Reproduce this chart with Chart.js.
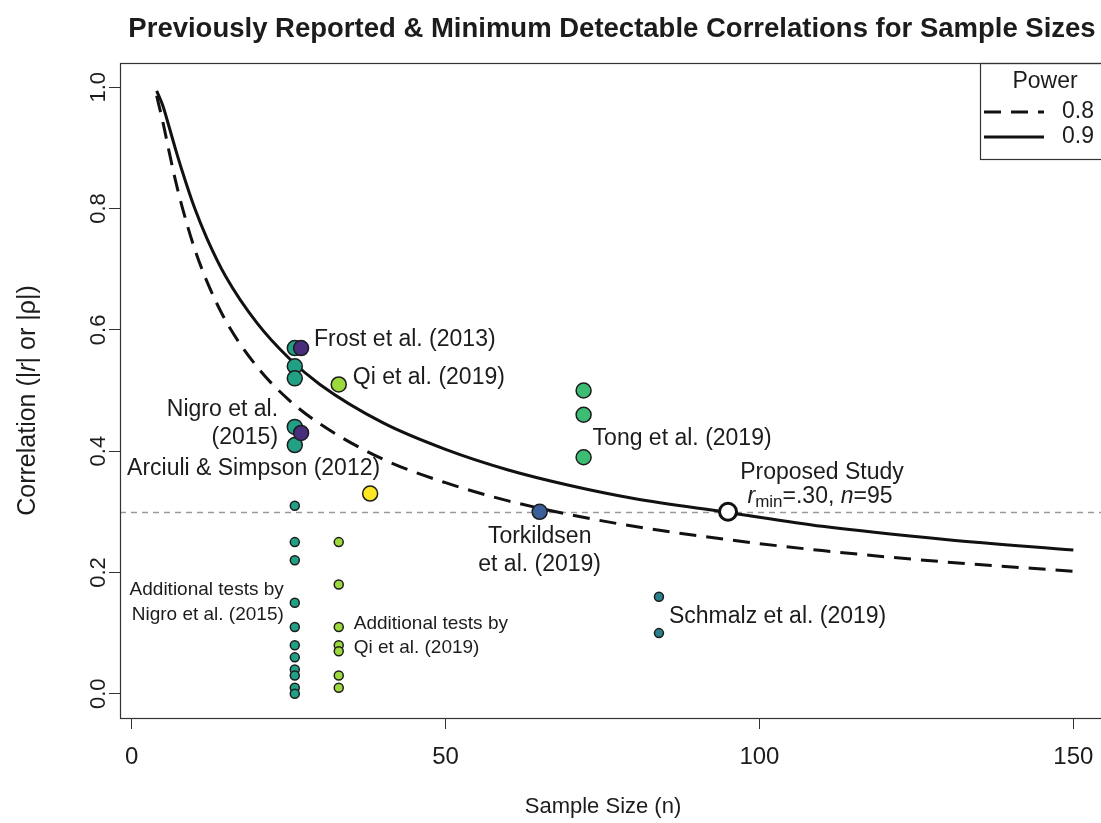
<!DOCTYPE html>
<html>
<head>
<meta charset="utf-8">
<title>Minimum detectable correlations</title>
<script src="https://cdn.jsdelivr.net/npm/chart.js@4.4.1/dist/chart.umd.min.js"></script>
<style>
  html, body { margin: 0; padding: 0; background: #fff; overflow: hidden; }
  #chart { display: block; }
</style>
</head>
<body>
<canvas id="chart" width="1140" height="823"></canvas>
<script>
"use strict";

// --- Data ---------------------------------------------------------------- //
const X_TICKS = [0, 50, 100, 150];
const X_TICK_LABELS = ["0", "50", "100", "150"];
const Y_TICKS = [0, 0.2, 0.4, 0.6, 0.8, 1.0];
const Y_TICK_LABELS = ["0.0", "0.2", "0.4", "0.6", "0.8", "1.0"];

// Minimum detectable |r| by sample size, for the two power levels.
const curveN = [4, 5, 6, 7, 8, 10, 12, 15, 20, 25, 30, 40, 50, 60, 70, 80, 95, 110, 130, 150];
const rPower80 = [0.986, 0.942, 0.893, 0.846, 0.805, 0.735, 0.680, 0.615, 0.539, 0.485,
                  0.445, 0.387, 0.348, 0.318, 0.295, 0.276, 0.254, 0.236, 0.217, 0.202];
const rPower90 = [0.994, 0.969, 0.934, 0.898, 0.864, 0.802, 0.751, 0.688, 0.611, 0.554,
                  0.510, 0.447, 0.403, 0.369, 0.343, 0.322, 0.299, 0.276, 0.254, 0.237];

// Previously reported correlations: [n, |r|]
const nigroMain = [[26, 0.57], [26, 0.54], [26, 0.52], [26, 0.44], [26, 0.41]];
const nigroExtra = [[26, 0.31], [26, 0.25], [26, 0.22], [26, 0.15], [26, 0.11], [26, 0.08],
                    [26, 0.06], [26, 0.04], [26, 0.03], [26, 0.01], [26, 0.00]];
const frost = [[27, 0.57]];
const nigroPurple = [[27, 0.43]];
const qiMain = [[33, 0.51]];
const qiExtra = [[33, 0.25], [33, 0.18], [33, 0.11], [33, 0.08], [33, 0.07], [33, 0.03], [33, 0.01]];
const arciuli = [[38, 0.33]];
const torkildsen = [[65, 0.30]];
const tong = [[72, 0.50], [72, 0.46], [72, 0.39]];
const schmalz = [[84, 0.16], [84, 0.10]];
const proposed = [[95, 0.30]];
const R_MIN = 0.30;

// R pads the data range by 4% on each side (x data runs 4..150, y 0..1).
const X_MIN = 4 - (150 - 4) * 0.04;
const X_MAX = 150 + (150 - 4) * 0.04;
const Y_MIN = -0.04;
const Y_MAX = 1.04;

// --- Helpers ------------------------------------------------------------- //
const FONT = '"Liberation Sans", Arial, Helvetica, sans-serif';
const INK = "#1c1c1c";

function pts(list) {
  return list.map(([x, y]) => ({ x, y }));
}

function curve(ys) {
  return curveN.map((n, i) => ({ x: n, y: ys[i] }));
}

function points(data, color, radius, extra) {
  return Object.assign({
    data: pts(data),
    backgroundColor: color,
    borderColor: INK,
    borderWidth: 1.5,
    pointRadius: radius,
    pointHoverRadius: radius,
  }, extra || {});
}

// Draw a row of text runs (mixed fonts / subscripts) as one label.
function drawRuns(ctx, runs, x, y, align) {
  let total = 0;
  for (const r of runs) {
    ctx.font = r.font;
    r.w = ctx.measureText(r.t).width;
    total += r.w;
  }
  let cx = align === "center" ? x - total / 2 : align === "right" ? x - total : x;
  ctx.textAlign = "left";
  ctx.textBaseline = "middle";
  for (const r of runs) {
    ctx.font = r.font;
    ctx.fillText(r.t, cx, y + (r.dy || 0));
    cx += r.w;
  }
}

function label(ctx, t, x, y, align, size) {
  ctx.font = (size || 23) + "px " + FONT;
  ctx.textAlign = align;
  ctx.textBaseline = "middle";
  ctx.fillText(t, x, y);
}

// Study labels, anchored to a data point with a pixel offset.
const NOTES = [
  { at: [27, 0.57], dx: 13, dy: -8, align: "left", lines: ["Frost et al. (2013)"] },
  { at: [33, 0.51], dx: 14, dy: -7, align: "left", lines: ["Qi et al. (2019)"] },
  { at: [27, 0.43], dx: -23, dy: -23, align: "right", lines: ["Nigro et al.", "(2015)"] },
  { at: [38, 0.33], dx: 10, dy: -25, align: "right", lines: ["Arciuli & Simpson (2012)"] },
  { at: [72, 0.39], dx: 9, dy: -19, align: "left", lines: ["Tong et al. (2019)"] },
  { at: [65, 0.30], dx: 0, dy: 25, align: "center", lines: ["Torkildsen", "et al. (2019)"] },
  { at: [84, 0.13], dx: 10, dy: 2, align: "left", lines: ["Schmalz et al. (2019)"] },
  { at: [26, 0.15], dx: -11, dy: -13, align: "right", size: 19, gap: 25,
    lines: ["Additional tests by", "Nigro et al. (2015)"] },
  { at: [33, 0.08], dx: 15, dy: -21, align: "left", size: 19, gap: 24,
    lines: ["Additional tests by", "Qi et al. (2019)"] },
];

// --- Decorations plugin (R-style frame, labels, legend) ------------------ //
const decor = {
  id: "decor",
  beforeDatasetsDraw(chart) {
    const { ctx, chartArea: a, scales: { y } } = chart;
    const py = Math.round(y.getPixelForValue(R_MIN)) + 0.5;
    ctx.save();
    ctx.strokeStyle = "#9a9a9a";
    ctx.lineWidth = 1.5;
    ctx.setLineDash([6, 5]);
    ctx.beginPath();
    ctx.moveTo(a.left, py);
    ctx.lineTo(a.right, py);
    ctx.stroke();
    ctx.restore();
  },
  afterDraw(chart) {
    const { ctx, chartArea: a, scales: { x, y } } = chart;
    ctx.save();
    ctx.fillStyle = INK;
    ctx.strokeStyle = "#333";

    // plot frame
    ctx.lineWidth = 1.2;
    ctx.strokeRect(a.left + 0.5, a.top + 0.5, a.right - a.left, a.bottom - a.top);

    // title
    ctx.font = "bold 27.5px " + FONT;
    ctx.textAlign = "center";
    ctx.textBaseline = "middle";
    ctx.fillText("Previously Reported & Minimum Detectable Correlations for Sample Sizes",
      (a.left + a.right) / 2 - 3, 29);

    // tick labels
    X_TICKS.forEach((v, i) => label(ctx, X_TICK_LABELS[i], x.getPixelForValue(v), a.bottom + 39, "center", 24));
    Y_TICKS.forEach((v, i) => {
      ctx.save();
      ctx.translate(a.left - 21, y.getPixelForValue(v));
      ctx.rotate(-Math.PI / 2);
      label(ctx, Y_TICK_LABELS[i], 0, 0, "center", 22);
      ctx.restore();
    });

    // axis titles
    label(ctx, "Sample Size (n)", (a.left + a.right) / 2 - 12, a.bottom + 89, "center", 22);
    ctx.save();
    ctx.translate(28, (a.top + a.bottom) / 2 + 10);
    ctx.rotate(-Math.PI / 2);
    const up = "25px " + FONT, it = "italic 25px " + FONT;
    drawRuns(ctx, [
      { t: "Correlation (|", font: up }, { t: "r", font: it },
      { t: "| or |\u03C1|)", font: up },
    ], 0, 0, "center");
    ctx.restore();

    // study notes
    for (const n of NOTES) {
      const px = x.getPixelForValue(n.at[0]) + n.dx;
      const py = y.getPixelForValue(n.at[1]) + n.dy;
      n.lines.forEach((t, i) => label(ctx, t, px, py + i * (n.gap || 28), n.align, n.size));
    }

    // proposed study note with subscript
    const sx = x.getPixelForValue(proposed[0][0]) + 94;
    const sy = y.getPixelForValue(proposed[0][1]);
    const nu = "23px " + FONT, ni = "italic 23px " + FONT;
    label(ctx, "Proposed Study", sx, sy - 39, "center");
    drawRuns(ctx, [
      { t: "r", font: ni }, { t: "min", font: "17px " + FONT, dy: 6 },
      { t: "=.30, ", font: nu }, { t: "n", font: ni }, { t: "=95", font: nu },
    ], sx - 2, sy - 15, "center");

    // legend (top-right, like R's legend("topright"))
    const lx = a.right - 130, ly = a.top;
    ctx.lineWidth = 1.2;
    ctx.strokeRect(lx + 0.5, ly + 0.5, 130, 96);
    label(ctx, "Power", lx + 65, ly + 19, "center");
    const lines = chart.data.datasets.filter((d) => d.legend);
    lines.forEach((d, i) => {
      const yy = ly + 49 + i * 25;
      ctx.save();
      ctx.strokeStyle = d.borderColor;
      ctx.lineWidth = d.borderWidth;
      ctx.setLineDash(d.borderDash || []);
      ctx.beginPath();
      ctx.moveTo(lx + 4, yy);
      ctx.lineTo(lx + 64, yy);
      ctx.stroke();
      ctx.restore();
      label(ctx, d.label, lx + 82, yy, "left");
    });
    ctx.restore();
  },
};

// --- Chart --------------------------------------------------------------- //
const COL = {
  teal: "#21a086",
  purple: "#472d7b",
  lime: "#9bd93c",
  yellow: "#fde725",
  green: "#3dbc74",
  blue: "#3a5f99",
  steel: "#2a7f8e",
};

const datasets = [
  points(proposed, "#ffffff", 8.5, { borderWidth: 3, borderColor: "#111" }),
  points(frost, COL.purple, 7.5),
  points(nigroPurple, COL.purple, 7.5),
  points(nigroMain, COL.teal, 7.5),
  points(qiMain, COL.lime, 7.5),
  points(arciuli, COL.yellow, 7.5),
  points(torkildsen, COL.blue, 7.5),
  points(tong, COL.green, 7.5),
  points(schmalz, COL.steel, 4.5),
  points(nigroExtra, COL.teal, 4.5),
  points(qiExtra, COL.lime, 4.5),
  {
    label: "0.8", legend: true, data: curve(rPower80), showLine: true,
    borderColor: "#111", borderWidth: 3, borderDash: [17, 10],
    pointRadius: 0, cubicInterpolationMode: "monotone",
  },
  {
    label: "0.9", legend: true, data: curve(rPower90), showLine: true,
    borderColor: "#111", borderWidth: 3,
    pointRadius: 0, cubicInterpolationMode: "monotone",
  },
];

const axisGrid = { display: true, drawOnChartArea: false, drawTicks: true, tickLength: 11, color: "#333" };

new Chart(document.getElementById("chart"), {
  type: "scatter",
  data: { datasets },
  plugins: [decor],
  options: {
    responsive: false,
    animation: false,
    devicePixelRatio: 1,
    layout: { padding: { top: 63, right: 30, left: 0, bottom: 0 } },
    plugins: { legend: { display: false }, tooltip: { enabled: false }, title: { display: false } },
    scales: {
      x: {
        type: "linear", min: X_MIN, max: X_MAX,
        border: { display: false }, grid: axisGrid, ticks: { display: false },
        afterBuildTicks: (s) => { s.ticks = X_TICKS.map((v) => ({ value: v })); },
        afterFit: (s) => { s.height = 105; },
      },
      y: {
        type: "linear", min: Y_MIN, max: Y_MAX,
        border: { display: false }, grid: axisGrid, ticks: { display: false },
        afterBuildTicks: (s) => { s.ticks = Y_TICKS.map((v) => ({ value: v })); },
        afterFit: (s) => { s.width = 120; },
      },
    },
  },
});
</script>
</body>
</html>
